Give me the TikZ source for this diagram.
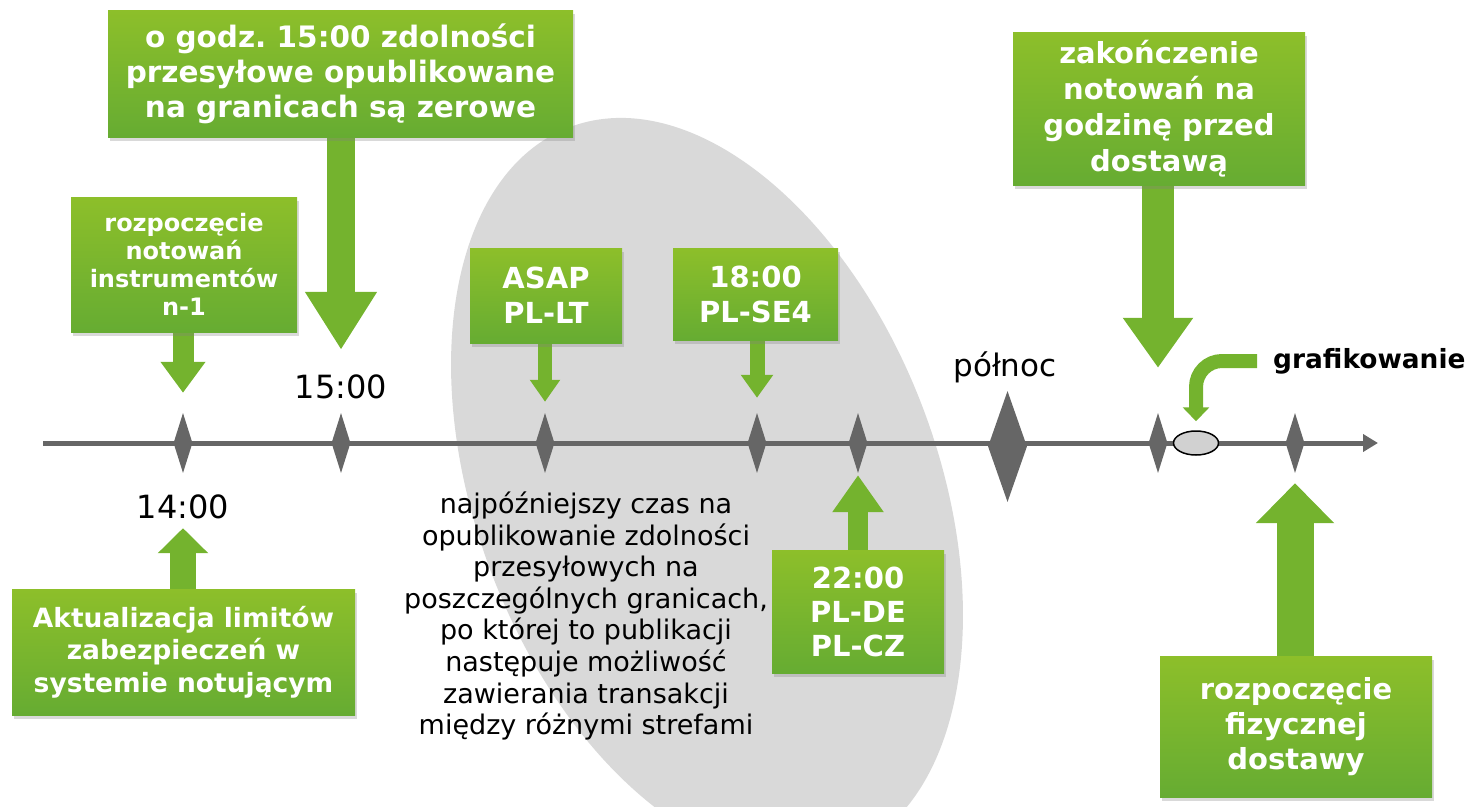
\documentclass[tikz,border=0pt]{standalone}
\usepackage{fontspec}
\setmainfont{DejaVu Sans}
\usepackage{tikz}
\usetikzlibrary{shapes.geometric,arrows.meta,shadows,backgrounds}
\definecolor{boxtop}{RGB}{141,191,42}
\definecolor{boxbot}{RGB}{102,172,50}
\definecolor{arrgreen}{RGB}{116,179,46}
\definecolor{axisgray}{RGB}{102,102,102}
\definecolor{zonegray}{RGB}{217,217,217}
\pgfdeclarelayer{arrows}
\pgfsetlayers{background,arrows,main}

\begin{document}
\begin{tikzpicture}[x=1pt, y=-1pt,
    tick/.style={diamond, fill=axisgray, inner sep=0pt, minimum width=19pt, minimum height=60pt},
    box/.style={rectangle, top color=boxtop, bottom color=boxbot, text=white, align=center, inner sep=0pt,
      font=\fontsize{29}{35}\selectfont\bfseries,
      drop shadow={shadow xshift=2pt, shadow yshift=-4pt, opacity=0.3}},
    hour/.style={font=\fontsize{32}{38}\selectfont, inner sep=0pt},
    blockarrow/.style n args={3}{draw=arrgreen, line width=#1, -{Triangle[width=#2,length=#3]}}]
  \useasboundingbox (0,0) rectangle (1469,806);

  % gray zone behind the evening part
  \begin{pgfonlayer}{background}
    \fill[zonegray, rotate around={20.7:(707,490)}] (707,490) ellipse [x radius=231, y radius=388];
  \end{pgfonlayer}

  % time axis
  \coordinate (tstart) at (43,443);
  \coordinate (tend)   at (1378,443);
  \draw[axisgray, line width=5pt, -{Triangle[width=17pt,length=15pt]}] (tstart) to (tend);

  \node[tick] (d14)   at (183,443)  {};
  \node[tick] (d15)   at (341,443)  {};
  \node[tick] (dasap) at (545,443)  {};
  \node[tick] (d18)   at (757,443)  {};
  \node[tick] (d22)   at (858,443)  {};
  \node[tick, minimum width=39pt, minimum height=111pt] (dmid) at (1007.5,446.5) {};
  \node[tick] (dend)  at (1158,443) {};
  \node[tick] (ddel)  at (1295,443) {};
  \node[ellipse, draw=black, line width=1.5pt, fill=black!18, inner sep=0pt,
        minimum width=45pt, minimum height=24pt] (sched) at (1196,443) {};

  % labels
  \node[hour] (l14)  at (183,507)  {14:00};
  \node[hour] (l15)  at (341,387)  {15:00};
  \node[hour, font=\fontsize{31}{36}\selectfont] (lmid) at (1005,367) {północ};
  \node[font=\fontsize{26.4}{30}\selectfont\bfseries, anchor=west, inner sep=0pt] (lgraf) at (1273,361) {grafikowanie};
  \node[font=\fontsize{27}{31.6}\selectfont, align=center, inner sep=0pt] (note) at (586,616)
    {najpóźniejszy czas na\\opublikowanie zdolności\\przesyłowych na\\poszczególnych granicach,\\po której to publikacji\\następuje możliwość\\zawierania transakcji\\między różnymi strefami};

  % boxes
  \node[box, font=\fontsize{24}{28}\selectfont\bfseries, minimum width=226pt, minimum height=135pt] (bn1) at (184,264.5)
    {rozpoczęcie\\notowań\\instrumentów\\n-1};
  \node[box, font=\fontsize{29.5}{35}\selectfont\bfseries, minimum width=465pt, minimum height=127pt] (b15) at (340.5,73.5)
    {o godz.\ 15:00 zdolności\\przesyłowe opublikowane\\na granicach są zerowe};
  \node[box, minimum width=152pt, minimum height=95pt] (basap) at (546,295.5) {ASAP\\PL-LT};
  \node[box, minimum width=165pt, minimum height=92pt] (b18) at (755.5,294) {18:00\\PL-SE4};
  \node[box, font=\fontsize{29}{34}\selectfont\bfseries, minimum width=172pt, minimum height=123pt] (b22) at (858,611.5)
    {22:00\\PL-DE\\PL-CZ};
  \node[box, font=\fontsize{26.5}{32.5}\selectfont\bfseries, minimum width=343pt, minimum height=126pt] (bakt) at (183.5,652)
    {Aktualizacja limitów\\zabezpieczeń w\\systemie notującym};
  \node[box, font=\fontsize{29}{36}\selectfont\bfseries, minimum width=292pt, minimum height=153pt] (bend) at (1159,108.5)
    {zakończenie\\notowań na\\godzinę przed\\dostawą};
  \node[box, minimum width=272pt, minimum height=141pt] (bdel) at (1296,726.5)
    {rozpoczęcie\\fizycznej\\dostawy};

  % arrows
  \begin{pgfonlayer}{arrows}
    \draw[blockarrow={21pt}{43pt}{31pt}, shorten >=20pt] (bn1.south -| d14) to (d14.north);
    \draw[blockarrow={28pt}{68pt}{58pt}, shorten >=63pt] (b15.south -| d15) to (d15.north);
    \draw[blockarrow={14pt}{29pt}{22pt}, shorten >=11pt] (basap.south -| dasap) to (dasap.north);
    \draw[blockarrow={15pt}{31pt}{23pt}, shorten >=15pt] (b18.south -| d18) to (d18.north);
    \draw[blockarrow={20pt}{49pt}{37pt}, shorten >=2pt]  (b22.north -| d22) to (d22.south);
    \draw[blockarrow={26pt}{49pt}{25pt}, shorten >=55pt] (bakt.north -| d14) to (d14.south);
    \draw[blockarrow={32pt}{67pt}{50pt}, shorten >=45pt] (bend.south -| dend) to (dend.north);
    \draw[blockarrow={37pt}{76pt}{40pt}, shorten >=10pt] (bdel.north -| ddel) to (ddel.south);
    \draw[blockarrow={14pt}{26pt}{14pt}, rounded corners=26pt, shorten <=16pt, shorten >=9pt] (lgraf.west) -| (sched.north);
  \end{pgfonlayer}
\end{tikzpicture}
\end{document}
